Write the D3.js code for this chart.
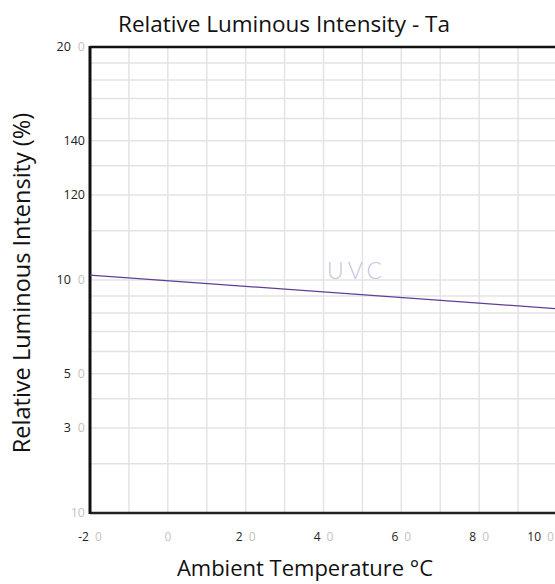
<!DOCTYPE html>
<html>
<head>
<meta charset="utf-8">
<script src="https://cdn.jsdelivr.net/npm/d3@7"></script>
<style>
  body { margin: 0; background: #fff; }
  text { font-family: "Open Sans", "Noto Sans", sans-serif; }
</style>
</head>
<body>
<svg id="chart"></svg>
<script>
// x axis: ambient temperature
const xTicks = [-20, 0, 20, 40, 60, 80, 100];
const xTickDark = ["-2", "", "2", "4", "6", "8", "10"];
const xTickGhost = ["0", "0", "0", "0", "0", "0", "0"];
const xGrid = [-10, 0, 10, 20, 30, 40, 50, 60, 70, 80, 90, 100];

// y axis: relative luminous intensity (two stacked bands, 10-100 and 100-190)
const yGrid = [20, 30, 40, 50, 60, 70, 80, 90, 100, 110, 120, 130, 140, 150, 160, 170, 180];
const yTicks = [190, 140, 120, 100, 50, 30, 10];
const yTickDark = ["20", "140", "120", "10", "5", "3", ""];
const yTickGhost = ["0", "", "", "0", "0", "0", "10"];

// series
const uvcTemp = [-20, 100];
const uvcValue = [100.8, 82.5];

const W = 555, H = 584;
const margin = { top: 47, right: -2, bottom: 71, left: 90 };
const innerW = W - margin.left - margin.right;
const innerH = H - margin.top - margin.bottom;

const svg = d3.select("#chart").attr("width", W).attr("height", H);
const g = svg.append("g").attr("transform", `translate(${margin.left},${margin.top})`);

const x = d3.scaleLinear().domain([-20, 100]).range([0, innerW]);
const yLow = d3.scalePow().exponent(0.4).domain([10, 100]).range([innerH, innerH / 2]);
const yHigh = d3.scalePow().exponent(0.4).domain([10, 100]).range([innerH / 2, 0]);
const y = v => v <= 100 ? yLow(v) : yHigh(v - 90);

// grid
g.selectAll(".h-grid").data(yGrid).enter().append("line")
    .attr("x1", 0).attr("x2", innerW)
    .attr("y1", d => y(d)).attr("y2", d => y(d))
    .style("stroke", "#e3e3e3").style("stroke-width", 1.5);

g.selectAll(".v-grid").data(xGrid).enter().append("line")
    .attr("x1", d => x(d)).attr("x2", d => x(d))
    .attr("y1", 0).attr("y2", innerH)
    .style("stroke", "#e3e3e3").style("stroke-width", 1.5);

// frame
g.append("line").attr("x1", 0).attr("x2", innerW).attr("y1", 0).attr("y2", 0)
    .style("stroke", "#111").style("stroke-width", 2.5);
g.append("line").attr("x1", 0).attr("x2", innerW).attr("y1", innerH).attr("y2", innerH)
    .style("stroke", "#222").style("stroke-width", 2.5);
g.append("line").attr("x1", 0).attr("x2", 0).attr("y1", -1).attr("y2", innerH + 1)
    .style("stroke", "#111").style("stroke-width", 3);

// series line
const pts = uvcTemp.map((t, i) => [t, uvcValue[i]]);
g.append("path")
    .datum(pts)
    .attr("d", d3.line().x(d => x(d[0])).y(d => y(d[1])))
    .style("fill", "none")
    .style("stroke", "#5e3f97")
    .style("stroke-width", 1.2);

g.append("text")
    .attr("x", x(48.5)).attr("y", y(100) - 1)
    .attr("text-anchor", "middle")
    .style("font-family", "Lato, 'Open Sans', sans-serif")
    .style("font-weight", 300)
    .style("font-size", "23px")
    .style("letter-spacing", "4px")
    .style("fill", "#cbbfe0")
    .text("UVC");

// y tick labels
yTicks.forEach((v, i) => {
    const t = g.append("text")
        .attr("x", -5).attr("y", y(v))
        .attr("dy", "0.35em")
        .attr("text-anchor", "end")
        .style("font-size", "12.5px");
    t.append("tspan").style("fill", "#222").text(yTickDark[i]);
    if (yTickGhost[i]) {
        t.append("tspan")
            .attr("dx", yTickDark[i] ? 7 : 0)
            .style("fill", "#c4c4c4")
            .text(yTickGhost[i]);
    }
});

// x tick labels
xTicks.forEach((v, i) => {
    const t = g.append("text")
        .attr("x", x(v)).attr("y", innerH + 28)
        .attr("text-anchor", "middle")
        .style("font-size", "12px");
    if (xTickDark[i]) t.append("tspan").style("fill", "#222").text(xTickDark[i]);
    t.append("tspan")
        .attr("dx", xTickDark[i] ? 6 : 0)
        .style("fill", "#c4c4c4")
        .text(xTickGhost[i]);
    const bb = t.node().getBBox();
    const overflow = margin.left + bb.x + bb.width - (W - 1);
    if (overflow > 0) t.attr("x", x(v) - overflow);
});

// titles
svg.append("text")
    .attr("x", 284).attr("y", 32)
    .attr("text-anchor", "middle")
    .style("font-size", "22.5px")
    .style("fill", "#111")
    .text("Relative Luminous Intensity - Ta");

svg.append("text")
    .attr("transform", `translate(30,${margin.top + innerH / 2 + 3}) rotate(-90)`)
    .attr("text-anchor", "middle")
    .style("font-size", "23.5px")
    .style("fill", "#111")
    .text("Relative Luminous Intensity (%)");

svg.append("text")
    .attr("x", 305).attr("y", 576)
    .attr("text-anchor", "middle")
    .style("font-size", "22px")
    .style("fill", "#111")
    .text("Ambient Temperature °C");
</script>
</body>
</html>
